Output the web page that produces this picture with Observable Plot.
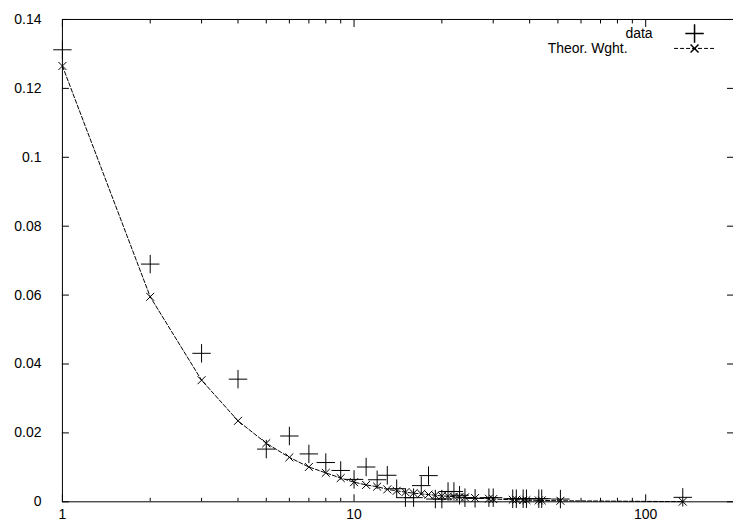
<!DOCTYPE html>
<html><head><meta charset="utf-8">
<script src="https://cdn.jsdelivr.net/npm/d3@7"></script>
<script src="https://cdn.jsdelivr.net/npm/@observablehq/plot@0.6"></script>
<style>
html,body{margin:0;padding:0;background:#fff;overflow:hidden;}
#chart svg{display:block;}
</style></head><body><div id="chart"></div>
<script>
const sizes = [1,2,3,4,5,6,7,8,9,10,11,12,13,14,15,16,17,18,19,20,21,22,23,24,26,29,30,35,36,38,39,43,44,51,134];
const dataShare = [0.1312,0.069,0.0431,0.0356,0.0153,0.0191,0.0139,0.0114,0.0091,0.0065,0.0101,0.0064,0.0077,0.0038,0.0012,0.0012,0.0047,0.0076,0.0008,0.0008,0.0030,0.0030,0.0019,0.0012,0.0010,0.0012,0.0012,0.0009,0.0009,0.0009,0.0009,0.0009,0.0009,0.0008,0.0013];
const theorWeight = [0.1265,0.0595,0.0353,0.0235,0.0170,0.0129,0.0101,0.0084,0.0069,0.0057,0.0049,0.0044,0.0036,0.0032,0.0028,0.0025,0.0023,0.0021,0.0019,0.0017,0.0016,0.0015,0.0014,0.0013,0.0011,0.0009,0.0008,0.0006,0.0006,0.0005,0.0005,0.0004,0.0004,0.0003,0.00005];
const seriesNames = ["data", "Theor. Wght."];
const yTicks = [0,0.02,0.04,0.06,0.08,0.1,0.12,0.14];
const yTickLabels = ["0","0.02","0.04","0.06","0.08","0.1","0.12","0.14"];
const xMajorTicks = [1,10,100];
const xTickLabels = ["1","10","100"];
const xMinorTicks = [2,3,4,5,6,7,8,9,20,30,40,50,60,70,80,90,200];

const rows = sizes.map((s, i) => ({size: s, data: dataShare[i], theor: theorWeight[i]}));

const fontFamily = "'Liberation Sans', Arial, Helvetica, sans-serif";
const fs = 14;
const ink = "#000";
const tickOnly = {fill: "none", label: null, stroke: ink};

const plot = Plot.plot({
  width: 734, height: 522,
  marginLeft: 62, marginRight: 0, marginTop: 19, marginBottom: 20,
  style: {fontFamily, fontSize: fs + "px", background: "#fff", color: ink},
  x: {type: "log", domain: [1, 200]},
  y: {domain: [0, 0.14]},
  marks: [
    Plot.frame({stroke: ink}),
    Plot.axisX(xMajorTicks, {anchor: "bottom", tickSize: -7, ...tickOnly}),
    Plot.axisX(xMinorTicks, {anchor: "bottom", tickSize: -3.5, ...tickOnly}),
    Plot.axisX(xMajorTicks, {anchor: "top", tickSize: -7, ...tickOnly}),
    Plot.axisX(xMinorTicks, {anchor: "top", tickSize: -3.5, ...tickOnly}),
    Plot.axisY(yTicks, {anchor: "left", tickSize: -7, ...tickOnly}),
    Plot.axisY(yTicks, {anchor: "right", tickSize: -7, ...tickOnly}),
    Plot.axisX(xMajorTicks, {anchor: "bottom", tickSize: 0, tickPadding: 7, label: null, fontSize: fs, tickFormat: d => xTickLabels[xMajorTicks.indexOf(d)]}),
    Plot.axisY(yTicks, {anchor: "left", tickSize: 0, tickPadding: 21, label: null, fontSize: fs, tickFormat: d => yTickLabels[yTicks.indexOf(d)]}),
    Plot.line(rows, {x: "size", y: "theor", stroke: ink, strokeWidth: 1, strokeDasharray: "4,2"}),
    Plot.dot(rows, {x: "size", y: "theor", symbol: "times", r: 3.7, stroke: ink, strokeWidth: 1}),
    Plot.dot(rows, {x: "size", y: "data", symbol: "plus", r: 6, stroke: ink, strokeWidth: 1}),
    // legend
    Plot.text([seriesNames[0]], {frameAnchor: "top-right", dx: -81, dy: 14, textAnchor: "end", lineAnchor: "middle", fontSize: fs, fill: ink}),
    Plot.text([seriesNames[1]], {frameAnchor: "top-right", dx: -106, dy: 29, textAnchor: "end", lineAnchor: "middle", fontSize: fs, fill: ink}),
    Plot.dot([seriesNames[0]], {frameAnchor: "top-right", dx: -39, dy: 14, symbol: "plus", r: 6, stroke: ink}),
    Plot.ruleY([yTicks[yTicks.length - 1]], {dy: 29, insetLeft: 613, insetRight: 17, stroke: ink, strokeDasharray: "4,2"}),
    Plot.dot([seriesNames[1]], {frameAnchor: "top-right", dx: -39, dy: 29, symbol: "times", r: 3.7, stroke: ink})
  ]
});
document.getElementById("chart").appendChild(plot);
</script>
</body></html>
